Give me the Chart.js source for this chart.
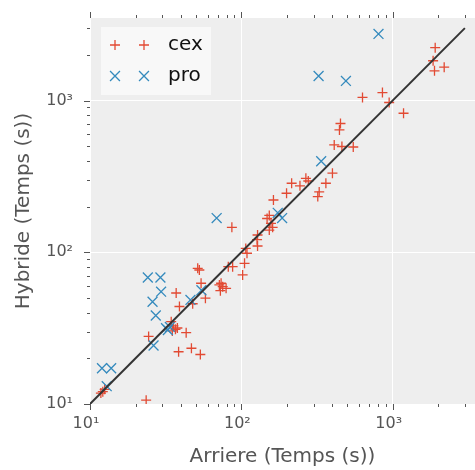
<!DOCTYPE html>
<html>
<head>
<meta charset="utf-8">
<script src="https://cdn.jsdelivr.net/npm/chart.js@4.4.1/dist/chart.umd.min.js"></script>
<style>
    html, body { margin: 0; padding: 0; background: #fff; }
    #wrap { width: 475px; height: 470px; }
</style>
</head>
<body>
<div id="wrap"><canvas id="scatterChart" width="475" height="470"></canvas></div>
<script>
// ========== 数据 ==========
const cexArriere = [1910, 1850, 1890, 2190, 632, 856, 948, 1180, 452, 445, 411, 462, 549,
    400, 215, 267, 277, 244, 362, 199, 327, 320, 163, 153, 148, 157, 161, 153, 86.6, 128,
    127, 128, 107, 109, 105, 87.6, 82, 102, 51.5, 52.8, 54.2, 37.1, 39, 47.7, 57.9, 71.6,
    75.3, 72.7, 79.3, 73.5, 34.4, 35.6, 36.7, 35, 37.8, 43.2, 24.4, 38.5, 46.8, 53.6,
    12.15, 11.8, 12.5, 23.5];
const cexHybride = [2230, 1830, 1570, 1660, 1048, 1128, 971, 825, 706, 640, 510, 498, 494,
    332, 285, 307, 295, 274, 285, 245, 250, 233, 221, 175, 167, 155, 146, 140, 146, 130,
    121, 110, 106, 98.5, 84.6, 80.4, 80.4, 70.9, 78.4, 76.4, 62.5, 53.9, 43.9, 45.8, 49.8, 60.9,
    59.3, 55.8, 57.9, 62.5, 34.9, 32.7, 31.1, 30.3, 31.7, 29.5, 27.9, 22.1, 23.3, 21.2,
    12.05, 11.8, 12.5, 10.6];

const proArriere = [806, 324, 491, 337, 174, 186, 68.7, 24.1, 29.2, 29.5, 25.9, 46.1, 54.5,
    27.2, 31.8, 32.7, 33.7, 26.3, 12.0, 13.8, 12.9];
const proHybride = [2748, 1452, 1347, 398, 182, 168, 168, 68.2, 68.2, 55.0, 47.2, 48.5, 56.2,
    38.3, 31.6, 30.7, 32.2, 24.3, 17.2, 17.2, 13.1];

// diagonale y = x
const refLine = [10, 3000];

const axisMin = 10;
const axisMax = 3500;
const majorTicks = [10, 100, 1000];
const tickLabels = ['10¹', '10²', '10³'];

const COLORS = {
    cex: '#E24A33',
    pro: '#348ABD',
    line: '#333333',
    panel: '#eeeeee',
    text: '#555555'
};
const FONT = 'DejaVu Sans';

// toutes les graduations (majeures + mineures) dans l'intervalle
const allTicks = [];
majorTicks.forEach(d => {
    for (let m = 1; m <= 9; m++) {
        const v = d * m;
        if (v >= axisMin && v <= axisMax) allTicks.push(v);
    }
});

function isMajor(v) {
    return majorTicks.indexOf(v) !== -1;
}

function labelFor(v) {
    const i = majorTicks.indexOf(v);
    return i === -1 ? '' : tickLabels[i];
}

function toPoints(xs, ys) {
    return xs.map((x, i) => ({ x: x, y: ys[i] }));
}

// fond gris de la zone de tracé
const panelPlugin = {
    id: 'panel',
    beforeDraw(chart) {
        const { ctx, chartArea: a } = chart;
        ctx.save();
        ctx.fillStyle = COLORS.panel;
        ctx.fillRect(a.left, a.top, a.right - a.left, a.bottom - a.top);
        ctx.restore();
    }
};

// petits traits de graduation vers l'extérieur (bas, haut, gauche)
const tickMarkPlugin = {
    id: 'tickMarks',
    afterDraw(chart) {
        const { ctx, chartArea: a } = chart;
        const xs = chart.scales.x;
        const ys = chart.scales.y;
        ctx.save();
        ctx.strokeStyle = COLORS.text;
        ctx.lineWidth = 1;
        ctx.beginPath();
        allTicks.forEach(v => {
            const len = isMajor(v) ? 6 : 3;
            const px = Math.round(xs.getPixelForValue(v)) + 0.5;
            ctx.moveTo(px, a.bottom);
            ctx.lineTo(px, a.bottom + len);
            ctx.moveTo(px, a.top);
            ctx.lineTo(px, a.top - len);
            const py = Math.round(ys.getPixelForValue(v)) + 0.5;
            ctx.moveTo(a.left, py);
            ctx.lineTo(a.left - len, py);
        });
        ctx.stroke();
        ctx.restore();
    }
};

function drawMarker(ctx, style, x, y, r) {
    ctx.beginPath();
    if (style === 'cross') {
        ctx.moveTo(x - r, y);
        ctx.lineTo(x + r, y);
        ctx.moveTo(x, y - r);
        ctx.lineTo(x, y + r);
    } else {
        const d = r * Math.SQRT1_2;
        ctx.moveTo(x - d, y - d);
        ctx.lineTo(x + d, y + d);
        ctx.moveTo(x - d, y + d);
        ctx.lineTo(x + d, y - d);
    }
    ctx.stroke();
}

// légende dans le coin haut gauche, deux marqueurs par entrée
const insetLegendPlugin = {
    id: 'insetLegend',
    afterDatasetsDraw(chart) {
        const { ctx, chartArea: a } = chart;
        const bx = a.left + 11;
        const by = a.top + 9;
        ctx.save();
        ctx.fillStyle = '#f8f8f8';
        ctx.fillRect(bx, by, 110, 68);
        const entries = [
            { label: 'cex', color: COLORS.cex, style: 'cross', r: 5 },
            { label: 'pro', color: COLORS.pro, style: 'crossRot', r: 7 }
        ];
        entries.forEach((e, i) => {
            const y = by + 18 + i * 31;
            ctx.strokeStyle = e.color;
            ctx.lineWidth = 1.3;
            drawMarker(ctx, e.style, bx + 14, y, e.r);
            drawMarker(ctx, e.style, bx + 43, y, e.r);
            ctx.fillStyle = '#111';
            ctx.font = '20px "' + FONT + '"';
            ctx.textBaseline = 'middle';
            ctx.textAlign = 'left';
            ctx.fillText(e.label, bx + 67, y);
        });
        ctx.restore();
    }
};

function axisOptions(size, titleText, titlePadding, extraTicks) {
    return {
        type: 'logarithmic',
        min: axisMin,
        max: axisMax,
        afterBuildTicks: s => { s.ticks = allTicks.map(v => ({ value: v })); },
        afterFit: s => {
            size(s);
            // pas de marge ajoutée pour les étiquettes extrêmes
            s.paddingLeft = 0;
            s.paddingRight = 0;
            s.paddingTop = 0;
            s.paddingBottom = 0;
        },
        border: { display: false },
        grid: {
            drawTicks: false,
            lineWidth: 1,
            color: c => (c.tick && isMajor(c.tick.value)) ? '#ffffff' : 'rgba(0,0,0,0)'
        },
        ticks: Object.assign({
            autoSkip: false,
            maxRotation: 0,
            color: COLORS.text,
            font: { family: FONT, size: 16 },
            callback: v => labelFor(v)
        }, extraTicks),
        title: {
            display: true,
            text: titleText,
            color: COLORS.text,
            font: { family: FONT, size: 20 },
            padding: titlePadding
        }
    };
}

function initScatterChart() {
    const ctx = document.getElementById('scatterChart');
    if (!ctx) return;

    new Chart(ctx, {
        type: 'scatter',
        data: {
            datasets: [{
                type: 'line',
                label: 'y=x',
                data: toPoints(refLine, refLine),
                borderColor: COLORS.line,
                borderWidth: 2,
                pointRadius: 0,
                fill: false,
                order: 0
            }, {
                label: 'cex',
                data: toPoints(cexArriere, cexHybride),
                pointStyle: 'cross',
                pointRadius: 5,
                borderColor: COLORS.cex,
                backgroundColor: COLORS.cex,
                pointBorderWidth: 1.3,
                order: 2
            }, {
                label: 'pro',
                data: toPoints(proArriere, proHybride),
                pointStyle: 'crossRot',
                pointRadius: 7,
                borderColor: COLORS.pro,
                backgroundColor: COLORS.pro,
                pointBorderWidth: 1.3,
                order: 1
            }]
        },
        options: {
            responsive: false,
            animation: false,
            devicePixelRatio: 1,
            layout: {
                autoPadding: false,
                padding: { top: 18, right: 0, bottom: 0, left: 0 }
            },
            plugins: {
                legend: { display: false },
                tooltip: { enabled: false }
            },
            scales: {
                x: axisOptions(s => { s.height = 66; }, 'Arriere (Temps (s))',
                    { top: 0, bottom: 1 }, { padding: 10, labelOffset: -4 }),
                y: axisOptions(s => { s.width = 90; }, 'Hybride (Temps (s))',
                    { top: 12, bottom: 0 }, { padding: 17 })
            }
        },
        plugins: [panelPlugin, tickMarkPlugin, insetLegendPlugin]
    });
}

initScatterChart();
</script>
</body>
</html>
